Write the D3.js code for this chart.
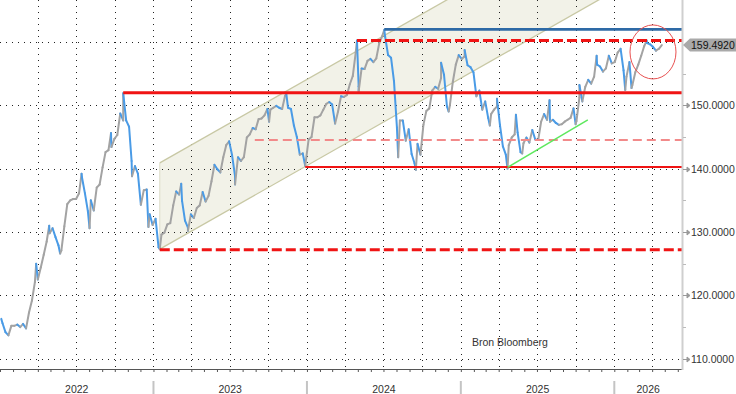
<!DOCTYPE html>
<html>
<head>
<meta charset="utf-8">
<script src="https://cdn.jsdelivr.net/npm/d3@7"></script>
<style>
  body { margin: 0; background: #fff; }
  #display { width: 736px; height: 394px; }
  text { font-family: "Liberation Sans", Arial, sans-serif; }
</style>
</head>
<body>
<div id="display"></div>
<script>
// USD/JPY weekly closes (Fridays)
var usd2022 = [115.6, 114.2, 113.7, 115.2, 115.2, 115.4, 115.0, 115.5, 114.8, 117.3, 119.2, 122.1,
  122.5, 124.4, 126.4, 128.5, 129.8, 130.6, 129.2, 127.9, 127.1, 130.9, 134.4, 135.0, 135.2,
  135.2, 136.1, 138.6, 136.1, 133.3, 135.0, 133.4, 137.0, 137.5, 140.2, 142.6, 142.9, 143.4, 144.7,
  145.3, 148.7, 147.6, 147.6, 146.6, 138.8, 140.4, 139.2, 134.3, 136.6, 136.7, 132.8, 131.1]
var usd2023 = [132.1, 127.6, 129.6, 129.9, 131.2, 131.4, 134.2, 136.4, 135.9, 134.9, 131.8, 130.7, 132.8,
  132.2, 133.8, 134.2, 136.3, 134.8, 135.7, 138.0, 140.6, 139.9, 139.4, 141.8, 143.7, 144.3,
  142.1, 138.8, 141.8, 141.2, 141.8, 144.9, 145.4, 146.4, 146.2, 147.8, 147.9, 148.4, 149.4,
  149.3, 149.6, 149.9, 149.6, 149.4, 151.5, 149.6, 149.4, 146.8, 145.0, 142.2, 142.4, 141.0]
var usd2024 = [144.6, 145.0, 148.1, 148.1, 148.4, 149.3, 150.2, 150.5, 150.1, 147.1, 149.0, 151.4, 151.3,
  151.6, 153.3, 154.6, 158.3, 153.0, 155.8, 155.7, 157.0, 157.3, 156.8, 157.4, 159.8, 160.9,
  160.8, 157.9, 157.5, 153.8, 146.5, 147.6, 147.6, 144.4, 146.2, 142.3, 140.8, 143.9, 142.2,
  146.9, 149.1, 149.5, 152.3, 152.9, 152.6, 154.3, 154.8, 149.8, 150.0, 153.7, 156.4, 157.9]
var usd2025 = [157.3, 157.7, 156.3, 156.0, 155.2, 151.4, 152.3, 149.3, 150.6, 148.0, 148.6, 149.3, 149.8,
  146.9, 143.5, 142.2, 143.7, 144.9, 145.4, 145.7, 142.6, 144.0, 144.9, 144.1, 146.1, 144.6,
  144.5, 147.4, 148.6, 147.7, 147.4, 147.7, 147.2, 146.9, 147.0, 147.4, 147.7, 148.0, 149.5,
  147.5, 151.2, 150.6, 152.9, 154.0, 153.4, 154.5, 156.4, 156.1, 155.3, 155.8, 157.8, 156.6]
var usd2026 = [156.8, 158.3, 158.9, 155.5, 154.5, 156.8, 153.2, 155.2, 156.4, 157.8, 159.3, 159.8,
  159.6, 159.2, 158.6, 158.9, 159.492]

// single-day extremes visible in the picture
var spikeDates = ["2022-01-04", "2022-03-28", "2022-04-28", "2022-05-24", "2022-07-14", "2022-08-02",
  "2022-09-22", "2022-10-21", "2022-11-10", "2022-12-20", "2023-01-16", "2023-03-08", "2023-03-24",
  "2023-07-14", "2023-10-03", "2023-11-13", "2023-12-28", "2024-04-29", "2024-05-03", "2024-07-03",
  "2024-08-05", "2024-09-16", "2024-11-15", "2024-12-03", "2025-01-10", "2025-03-11", "2025-03-28",
  "2025-04-22", "2025-05-12", "2025-05-27", "2025-07-31", "2025-10-01", "2025-10-10", "2025-11-20",
  "2026-01-27", "2026-02-11", "2026-03-19"]
var spikeValues = [116.3, 125.0, 131.0, 126.6, 139.2, 130.6,
  145.6, 151.9, 141.2, 130.8, 127.3, 137.6, 130.2,
  137.5, 147.4, 151.8, 140.4, 160.2, 152.2, 161.9,
  141.8, 139.8, 156.7, 149.0, 158.7, 146.8, 151.0,
  140.0, 148.5, 142.4, 150.8, 147.0, 153.2, 157.8,
  152.4, 152.7, 160.2]

// horizontal levels drawn on the chart
var levelStart = ["2022-10-21", "2023-01-16", "2023-08-30", "2023-12-28", "2024-04-29", "2024-07-03"]
var levelValues = [151.95, 127.2, 144.5, 140.25, 160.2, 161.95]

// rising channel (lower / upper edge at start and end)
var channelDates = ["2023-01-16", "2026-01-01"]
var channelLower = [127.3, 168.0]
var channelUpper = [140.9, 181.6]

// green support line
var supportDates = ["2025-04-22", "2025-10-30"]
var supportValues = [140.2, 147.7]

var gridValues = [110, 120, 130, 140, 150, 160]
var tickValues = [110, 120, 130, 140, 150]
var minorValues = [115, 125, 135, 145, 155]
var years = [2022, 2023, 2024, 2025, 2026]
var lastPrice = 159.492
var circleDate = "2026-04-03", circleValue = 158.4

var parse = d3.utcParse("%Y-%m-%d");
var width = 736, height = 394;
var plotW = 682, plotH = 369;

var x = d3.scaleUtc()
    .domain([new Date(Date.UTC(2022, 0, 1)), new Date(Date.UTC(2026, 5, 11))])
    .range([0, plotW]);
var y = d3.scaleLinear()
    .domain([110, 160])
    .range([358.8, 41.8]);

// build series
var closes = usd2022.concat(usd2023, usd2024, usd2025, usd2026);
var fridays = d3.utcFriday.range(new Date(Date.UTC(2022, 0, 1)), new Date(Date.UTC(2026, 3, 25)));
var series = closes.map((v, i) => ({date: fridays[i], value: v}));
spikeDates.forEach((d, i) => series.push({date: parse(d), value: spikeValues[i]}));
series.sort((a, b) => a.date - b.date);

var svg = d3.select("#display")
    .append("svg")
    .attr("width", width)
    .attr("height", height);

svg.append("defs").append("clipPath")
    .attr("id", "plot")
  .append("rect")
    .attr("width", plotW)
    .attr("height", plotH);

var plot = svg.append("g").attr("clip-path", "url(#plot)");

// channel fill
var cx0 = x(parse(channelDates[0])), cx1 = x(parse(channelDates[1]));
plot.append("path")
    .attr("d", "M" + cx0 + "," + y(channelLower[0]) + "L" + cx1 + "," + y(channelLower[1]) +
               "L" + cx1 + "," + y(channelUpper[1]) + "L" + cx0 + "," + y(channelUpper[0]) + "Z")
    .attr("fill", "#f2f2e8");

// grid
plot.append("g")
    .selectAll("line")
    .data(gridValues)
    .join("line")
      .attr("x1", 0).attr("x2", plotW)
      .attr("y1", d => Math.round(y(d)) + 0.5).attr("y2", d => Math.round(y(d)) + 0.5)
      .attr("stroke", "#222").attr("stroke-dasharray", "1,5");

plot.append("g")
    .selectAll("line")
    .data(d3.utcMonth.every(3).range(new Date(Date.UTC(2022, 3, 1)), new Date(Date.UTC(2026, 4, 2))))
    .join("line")
      .attr("x1", d => Math.round(x(d)) + 0.5).attr("x2", d => Math.round(x(d)) + 0.5)
      .attr("y1", 0).attr("y2", plotH)
      .attr("stroke", "#222").attr("stroke-dasharray", "1,5");

// channel edges
plot.append("g")
    .selectAll("line")
    .data([channelLower, channelUpper])
    .join("line")
      .attr("x1", cx0).attr("x2", cx1)
      .attr("y1", d => y(d[0])).attr("y2", d => y(d[1]))
      .attr("stroke", "#c8c8a4").attr("stroke-width", 1.3);
plot.append("line")
    .attr("x1", cx0).attr("x2", cx0)
    .attr("y1", y(channelUpper[0])).attr("y2", y(channelLower[0]))
    .attr("stroke", "#ddddc8").attr("stroke-width", 1);

// price line: gray when rising, blue when falling
var segs = d3.pairs(series);
plot.append("g")
    .selectAll("line")
    .data(segs)
    .join("line")
      .attr("x1", d => x(d[0].date)).attr("y1", d => y(d[0].value))
      .attr("x2", d => x(d[1].date)).attr("y2", d => y(d[1].value))
      .attr("stroke", d => d[1].value >= d[0].value ? "#a3a3a3" : "#4a9be6")
      .attr("stroke-width", 2)
      .attr("stroke-linecap", "round");

// level lines
var levelStyle = [
  {c: "#f01414", w: 3, dash: null},
  {c: "#f01414", w: 3, dash: "10,4"},
  {c: "#f28a8a", w: 2, dash: "9,5"},
  {c: "#f01414", w: 1.8, dash: null},
  {c: "#f01414", w: 3, dash: "10,4"},
  {c: "#2e6aa6", w: 2.8, dash: null}
];
plot.append("g")
    .selectAll("line")
    .data(levelValues)
    .join("line")
      .attr("x1", (d, i) => x(parse(levelStart[i]))).attr("x2", plotW)
      .attr("y1", d => y(d)).attr("y2", d => y(d))
      .attr("stroke", (d, i) => levelStyle[i].c)
      .attr("stroke-width", (d, i) => levelStyle[i].w)
      .attr("stroke-dasharray", (d, i) => levelStyle[i].dash);

plot.append("line")
    .attr("x1", x(parse(supportDates[0]))).attr("y1", y(supportValues[0]))
    .attr("x2", x(parse(supportDates[1]))).attr("y2", y(supportValues[1]))
    .attr("stroke", "#5ee85e").attr("stroke-width", 1.5);

plot.append("ellipse")
    .attr("cx", x(parse(circleDate))).attr("cy", y(circleValue))
    .attr("rx", 23).attr("ry", 27)
    .attr("fill", "none").attr("stroke", "#e85050").attr("stroke-width", 1);

svg.append("text")
    .attr("x", 472).attr("y", 346)
    .attr("fill", "#333").style("font-size", "10.5px")
    .text("Bron Bloomberg");

// bottom axis
var xAxis = svg.append("g")
    .attr("transform", "translate(0," + plotH + ")")
    .call(d3.axisBottom(x)
      .ticks(d3.utcMonth.every(1))
      .tickSize(3)
      .tickSizeOuter(0)
      .tickFormat(""));
xAxis.select(".domain").attr("stroke", "#555");
xAxis.selectAll(".tick line").attr("stroke", "#555");

var yearEnd = x.domain()[1];
svg.append("g")
    .selectAll("line")
    .data(years.slice(1))
    .join("line")
      .attr("x1", d => x(new Date(Date.UTC(d, 0, 1)))).attr("x2", d => x(new Date(Date.UTC(d, 0, 1))))
      .attr("y1", 381).attr("y2", 394)
      .attr("stroke", "#c4c4c4").attr("stroke-width", 2);
svg.append("g")
    .selectAll("text")
    .data(years)
    .join("text")
      .attr("x", d => (x(new Date(Date.UTC(d, 0, 1))) + x(d3.min([new Date(Date.UTC(d + 1, 0, 1)), yearEnd]))) / 2)
      .attr("y", 393)
      .attr("text-anchor", "middle")
      .attr("fill", "#333").style("font-size", "10.5px")
      .text(d => d);

// right axis
svg.append("line")
    .attr("x1", plotW + 0.5).attr("x2", plotW + 0.5)
    .attr("y1", 0).attr("y2", plotH + 1)
    .attr("stroke", "#cfcfcf").attr("stroke-width", 2);

svg.append("g")
    .selectAll("line")
    .data(minorValues)
    .join("line")
      .attr("x1", plotW + 1).attr("x2", plotW + 4)
      .attr("y1", d => Math.round(y(d)) + 0.5).attr("y2", d => Math.round(y(d)) + 0.5)
      .attr("stroke", "#bbb");

var yTicks = svg.append("g")
    .selectAll("g")
    .data(tickValues)
    .join("g")
      .attr("transform", d => "translate(" + plotW + "," + Math.round(y(d)) + ")");
yTicks.append("path")
    .attr("d", "M1,0.5L5,0.5M5,-2L8,0.5L5,3Z")
    .attr("stroke", "#999").attr("fill", "#999").attr("stroke-width", 1);
yTicks.append("text")
    .attr("x", 9).attr("y", 4)
    .attr("fill", "#333").style("font-size", "10.5px")
    .text(d => d3.format(".4f")(d));

// last price tag
var ly = y(lastPrice);
svg.append("path")
    .attr("d", "M" + (plotW + 1) + "," + ly + "L" + (plotW + 8) + "," + (ly - 6.5) + "L" + width + "," + (ly - 6.5) +
               "L" + width + "," + (ly + 6.5) + "L" + (plotW + 8) + "," + (ly + 6.5) + "Z")
    .attr("fill", "#a9a9a9");
svg.append("text")
    .attr("x", plotW + 9).attr("y", ly + 4)
    .attr("fill", "#111").style("font-size", "10.5px")
    .text(d3.format(".4f")(lastPrice));
</script>
</body>
</html>
